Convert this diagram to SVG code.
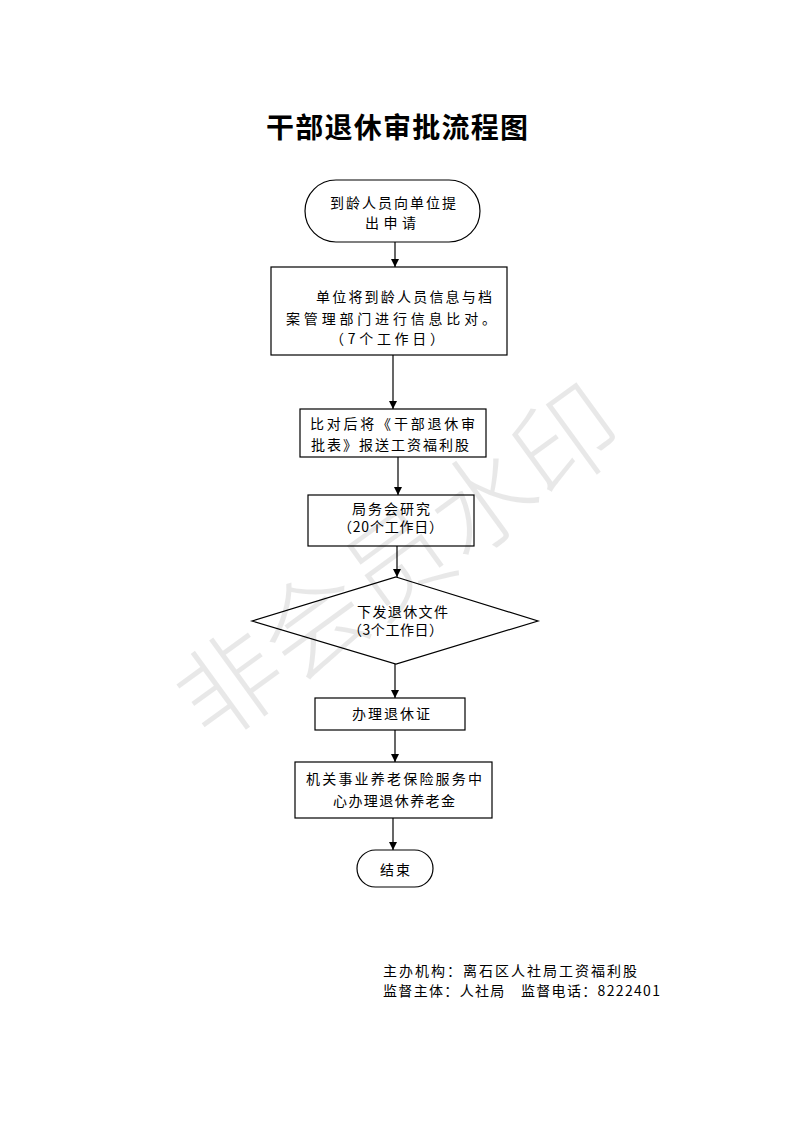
<svg xmlns="http://www.w3.org/2000/svg" width="793" height="1122" viewBox="0 0 793 1122">
<style>
.n{fill:#fff;stroke:#000;stroke-width:1.2}
.t{font-family:"Noto Sans CJK SC","Liberation Sans",sans-serif;font-size:14px;fill:#000}
.c{stroke:#000;stroke-width:1.2;fill:none}
.title{font-family:"Noto Sans CJK SC",sans-serif;font-size:28px;font-weight:bold;fill:#000}
.wm{font-family:"Noto Sans CJK SC",sans-serif;font-size:104px;font-weight:300;fill:#000;fill-opacity:0.09}
</style>
<defs>
<marker id="a" markerWidth="10" markerHeight="10" refX="8" refY="5" orient="auto" markerUnits="userSpaceOnUse">
<path d="M0,1 L8,5 L0,9 Z" fill="#000"/>
</marker>
</defs>
<rect width="793" height="1122" fill="#fff"/>
<text class="title" x="266" y="138" textLength="262" lengthAdjust="spacing">干部退休审批流程图</text>
<g id="connectors">
<line class="c" x1="395" y1="242" x2="395" y2="267" marker-end="url(#a)"/>
<line class="c" x1="393" y1="355" x2="393" y2="409" marker-end="url(#a)"/>
<line class="c" x1="398" y1="457" x2="398" y2="495" marker-end="url(#a)"/>
<line class="c" x1="397" y1="546" x2="397" y2="577" marker-end="url(#a)"/>
<line class="c" x1="395" y1="664" x2="395" y2="698" marker-end="url(#a)"/>
<line class="c" x1="395" y1="730" x2="395" y2="762" marker-end="url(#a)"/>
<line class="c" x1="393" y1="818" x2="393" y2="850" marker-end="url(#a)"/>
</g>
<g id="start">
<rect class="n" x="305" y="180" width="175" height="62" rx="31"/>
<text class="t" x="330" y="208" textLength="126" lengthAdjust="spacing">到龄人员向单位提</text>
<text class="t" x="365" y="228" textLength="51" lengthAdjust="spacing">出申请</text>
</g>
<g id="compare">
<rect class="n" x="271" y="267" width="236" height="88"/>
<text class="t" x="316" y="302" textLength="176" lengthAdjust="spacing">单位将到龄人员信息与档</text>
<text class="t" x="286" y="324" textLength="210" lengthAdjust="spacing">案管理部门进行信息比对。</text>
<text class="t" x="330" y="344" textLength="114" lengthAdjust="spacing">（7个工作日）</text>
</g>
<g id="submit">
<rect class="n" x="300" y="409" width="186" height="48"/>
<text class="t" x="310" y="429" textLength="165" lengthAdjust="spacing">比对后将《干部退休审</text>
<text class="t" x="311" y="450" textLength="158" lengthAdjust="spacing">批表》报送工资福利股</text>
</g>
<g id="study">
<rect class="n" x="308" y="495" width="166" height="51"/>
<text class="t" x="352" y="514" textLength="78" lengthAdjust="spacing">局务会研究</text>
<text class="t" x="338" y="532" textLength="105" lengthAdjust="spacing">（20个工作日）</text>
</g>
<g id="issue">
<polygon class="n" points="396,577 538,621 396,664 252,621"/>
<text class="t" x="357" y="617" textLength="91" lengthAdjust="spacing">下发退休文件</text>
<text class="t" x="348" y="635" textLength="95" lengthAdjust="spacing">（3个工作日）</text>
</g>
<g id="cert">
<rect class="n" x="315" y="698" width="150" height="32"/>
<text class="t" x="352" y="719" textLength="78" lengthAdjust="spacing">办理退休证</text>
</g>
<g id="pension">
<rect class="n" x="295" y="762" width="197" height="56"/>
<text class="t" x="306" y="784" textLength="176" lengthAdjust="spacing">机关事业养老保险服务中</text>
<text class="t" x="333" y="806" textLength="122" lengthAdjust="spacing">心办理退休养老金</text>
</g>
<g id="end">
<rect class="n" x="357" y="850" width="76" height="37" rx="18.5"/>
<text class="t" x="380" y="875" textLength="30" lengthAdjust="spacing">结束</text>
</g>
<g id="footer">
<text class="t" x="383" y="976" textLength="254" lengthAdjust="spacing">主办机构：离石区人社局工资福利股</text>
<text class="t" x="383" y="996" textLength="277" lengthAdjust="spacing">监督主体：人社局　监督电话：8222401</text>
</g>
<text class="wm" x="400" y="600" text-anchor="middle" textLength="520" lengthAdjust="spacing" transform="rotate(-36 400 565)">非会员水印</text>
</svg>
